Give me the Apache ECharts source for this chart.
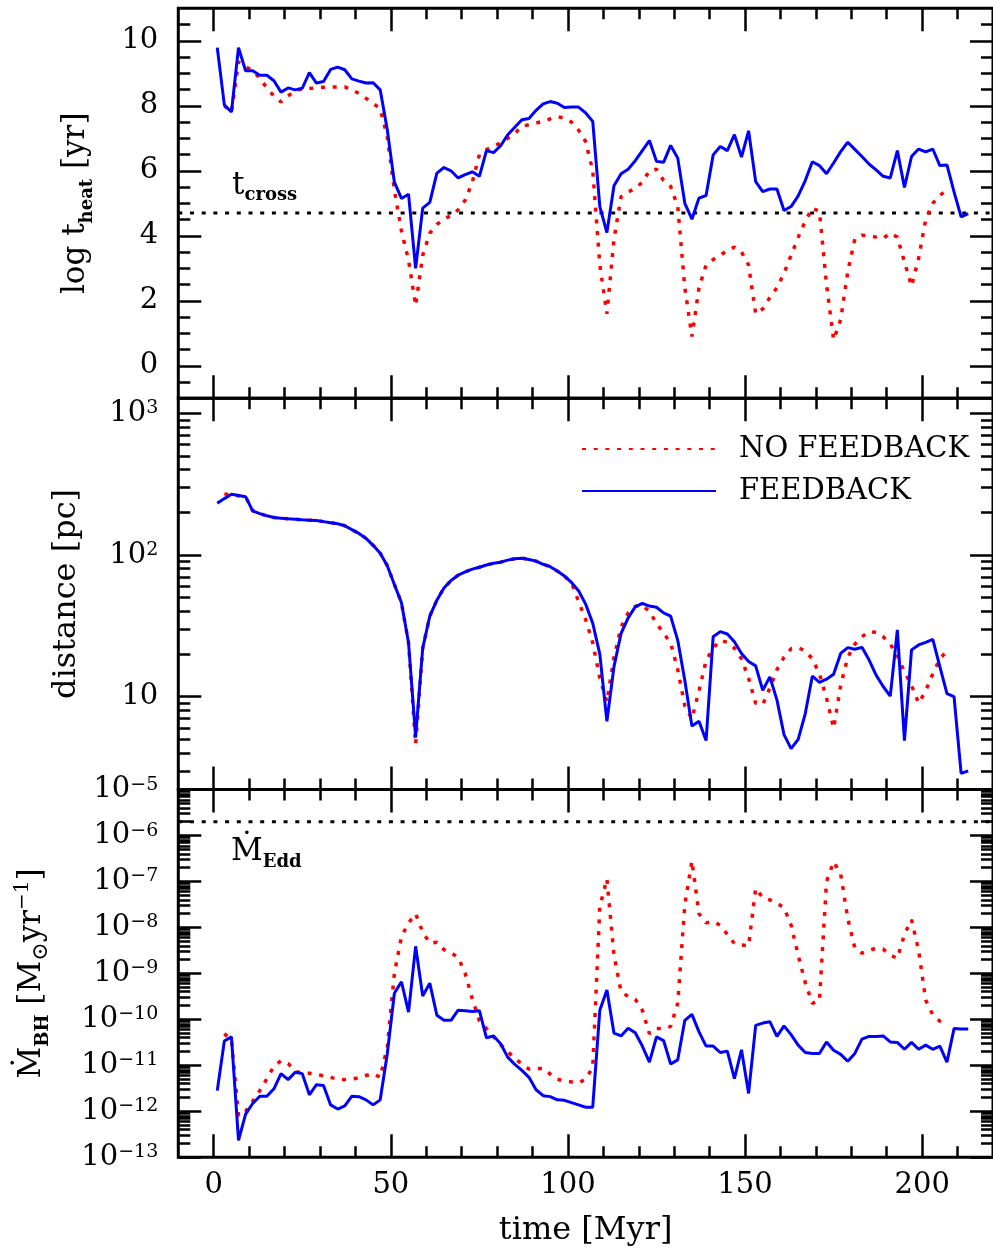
<!DOCTYPE html>
<html><head><meta charset="utf-8">
<script src="https://cdn.jsdelivr.net/npm/echarts@6/dist/echarts.min.js"></script>
<style>html,body{margin:0;padding:0;background:#fff}#c{width:993px;height:1259px}</style>
</head><body><div id="c"></div>
<script>
// ---------------- DATA ----------------
const times = [1,3,5,7,9,11,13,15,17,19,21,23,25,27,29,31,33,35,37,39,41,43,45,47,49,51,53,55,57,59,61,63,65,67,69,71,73,75,77,79,81,83,85,87,89,91,93,95,97,99,101,103,105,107,109,111,113,115,117,119,121,123,125,127,129,131,133,135,137,139,141,143,145,147,149,151,153,155,157,159,161,163,165,167,169,171,173,175,177,179,181,183,185,187,189,191,193,195,197,199,201,203,205,207,209,211,213];

// log t_heat [yr]
const theatFeedback = [9.79,8.03,7.81,9.79,9.08,9.08,8.94,8.94,8.77,8.42,
 8.55,8.49,8.54,9.02,8.70,8.75,9.12,9.19,9.11,8.83,
 8.76,8.70,8.71,8.49,7.26,5.65,5.15,5.28,3.00,4.85,
 5.03,5.93,6.10,6.00,5.78,5.88,5.97,5.83,6.62,6.56,
 6.77,7.11,7.34,7.57,7.61,7.86,8.06,8.13,8.08,7.95,
 7.96,7.96,7.78,7.52,4.90,4.10,5.54,5.91,6.05,6.31,
 6.62,6.93,6.29,6.26,6.78,6.39,5.00,4.51,5.16,5.24,
 6.49,6.75,6.62,7.11,6.42,7.23,5.67,5.36,5.44,5.44,
 4.78,4.90,5.23,5.70,6.28,6.16,5.91,6.24,6.59,6.88,
 6.66,6.44,6.21,6.03,5.83,5.78,6.62,5.49,6.44,6.67,
 6.58,6.67,6.16,6.18,5.35,4.58,4.68];
const theatNoFeedback = [null,8.00,7.80,9.35,9.20,9.08,8.85,8.55,8.30,8.12,
 8.30,8.48,8.51,8.53,8.55,8.57,8.58,8.58,8.58,8.49,
 8.38,8.23,8.08,7.90,7.05,5.40,4.15,3.25,1.85,3.40,
 4.08,4.35,4.52,4.62,4.80,5.10,5.65,6.50,6.65,6.75,
 6.86,7.00,7.15,7.37,7.42,7.47,7.52,7.60,7.67,7.62,
 7.50,7.25,6.90,6.00,3.10,1.60,3.90,5.20,5.35,5.45,
 5.65,6.00,6.05,5.70,5.52,4.90,2.40,0.90,2.40,3.10,
 3.27,3.40,3.55,3.65,3.50,3.10,1.60,1.75,2.10,2.40,
 2.85,3.40,3.95,4.45,4.85,4.75,2.50,0.80,1.42,2.90,
 3.90,4.02,4.00,3.96,3.92,4.08,3.96,3.20,2.45,3.30,
 4.50,5.00,5.25,5.40,null,null,null];

// distance [pc]
const distFeedback = [232,250,268,263,258,205,196,189,184,182,
 180,179,177,176,175,172,169,166,161,151,
 142,131,117,103,84,62,46,24,5.2,22,
 37,48,58.5,66,72,76,79.5,82,85,87.5,
 89,92,94,95,93,90.5,86,82.7,77,71,
 64,56,45,33,20,6.7,16.3,28,36,43,
 45.6,43.6,42.8,39,37,25,13,6.2,6.7,4.9,
 26.5,28.8,27.7,24.4,20.2,17.7,16.5,11.1,13.8,9.5,
 5.4,4.3,5.0,7.6,14.0,12.6,13.3,14.4,20.2,22.2,
 21.6,22.3,18.2,14.2,11.8,10.1,29.6,4.9,21.4,23.2,
 24.2,25.4,16.3,10.5,10.0,2.88,3.0];
const distNoFeedback = [null,270,265,262,258,205,196,189,184,182,
 180,179,177,176,175,172,169,166,161,151,
 142,131,117,103,84,62,46,24,4.6,22,
 37,48,58.5,66,72,76,79.5,82,85,87.5,
 89,92,94,95,93,90.5,86,82.7,77,71,
 64,47,35,24,13.5,9.2,19,31,39,43.5,
 44,40,33,28,24,15.5,8.6,7.0,11,18,
 22,25,24.2,22,18.5,13.5,9,8.8,11.5,15.5,
 19,21.8,22.2,21,18.5,14.5,9.8,6.0,12,19,
 23.5,26.5,28.8,28.5,26.5,23.5,19.5,15,12,9,
 11,14.5,18.5,21,null,null,null];

// accretion rate: log10 of Mdot_BH [Msun/yr]
const mdotFeedbackExp = [-11.55,-10.47,-10.38,-12.63,-12.06,-11.83,-11.67,-11.67,-11.51,-11.18,
 -11.31,-11.15,-11.18,-11.64,-11.42,-11.44,-11.86,-11.95,-11.88,-11.67,
 -11.68,-11.75,-11.86,-11.75,-10.75,-9.43,-9.18,-9.84,-8.41,-9.49,
 -9.21,-9.91,-10.02,-10.02,-9.80,-9.81,-9.83,-9.81,-10.40,-10.36,
 -10.53,-10.82,-10.98,-11.11,-11.26,-11.53,-11.66,-11.68,-11.75,-11.76,
 -11.81,-11.86,-11.91,-11.91,-9.80,-9.36,-10.30,-10.36,-10.19,-10.29,
 -10.58,-10.93,-10.38,-10.46,-10.97,-10.88,-10.02,-9.89,-10.27,-10.58,
 -10.58,-10.72,-10.69,-11.29,-10.66,-11.61,-10.13,-10.08,-10.05,-10.37,
 -10.14,-10.33,-10.56,-10.72,-10.74,-10.74,-10.49,-10.67,-10.76,-10.91,
 -10.74,-10.43,-10.37,-10.37,-10.36,-10.49,-10.50,-10.65,-10.50,-10.65,
 -10.56,-10.65,-10.58,-10.93,-10.20,-10.21,-10.21];
const mdotNoFeedbackExp = [null,-10.31,-10.45,-12.10,-12.00,-11.78,-11.55,-11.29,-11.02,-10.90,
 -10.96,-11.12,-11.18,-11.17,-11.19,-11.23,-11.26,-11.30,-11.31,-11.30,
 -11.27,-11.22,-11.18,-11.26,-10.60,-9.00,-8.20,-7.90,-7.70,-8.10,
 -8.34,-8.32,-8.48,-8.55,-8.65,-9.00,-9.55,-10.03,-10.20,-10.38,
 -10.55,-10.70,-10.85,-10.97,-11.08,-11.08,-11.06,-11.19,-11.30,-11.34,
 -11.36,-11.38,-11.30,-11.04,-7.55,-6.94,-8.60,-9.40,-9.50,-9.56,
 -9.80,-10.31,-10.20,-10.20,-10.15,-9.65,-7.50,-6.55,-7.70,-7.90,
 -7.87,-7.95,-8.15,-8.35,-8.38,-8.40,-7.15,-7.35,-7.40,-7.47,
 -7.57,-7.95,-8.60,-9.20,-9.65,-9.60,-7.00,-6.57,-6.84,-7.80,
 -8.45,-8.56,-8.50,-8.45,-8.47,-8.60,-8.67,-8.15,-7.83,-8.50,
 -9.58,-9.90,-10.04,-10.10,null,null,null];

const tCross = 4.7;       // log yr
const mdotEdd = 2.0e-6;   // Msun/yr

// axis ranges and tick values
const timeRange = [-10, 220];
const xMajorTicks = [0,50,100,150,200];
const xMinorTicks = [10,20,30,40,60,70,80,90,110,120,130,140,160,170,180,190,210];
const theatMajorTicks = [0,2,4,6,8,10];
const theatMinorTicks = [-0.5,0.5,1,1.5,2.5,3,3.5,4.5,5,5.5,6.5,7,7.5,8.5,9,9.5,10.5];
const distMajorTicks = [10,100,1000];
const mdotMajorTicks = [1e-13,1e-12,1e-11,1e-10,1e-9,1e-8,1e-7,1e-6,1e-5];
const minorMultipliers = [2,3,4,5,6,7,8,9];

// ---------------- CHART ----------------
const FONT = 'DejaVu Serif';
const BLACK = '#000';
const RED = '#ff0000';
const BLUE = '#0000ff';

function logMinors(lo, hi) {
  const out = [];
  for (let e = lo; e < hi; e++) minorMultipliers.forEach(m => out.push(m * Math.pow(10, e)));
  return out;
}
const distMinorTicks = logMinors(0, 3).filter(v => v >= 2.3);
const mdotMinorTicks = logMinors(-13, -5);

const grids = [
  {left: 178.3, width: 816, top: 8.3, height: 390},
  {left: 178.3, width: 816, top: 398.3, height: 391.3},
  {left: 178.3, width: 816, top: 789.6, height: 367.7}
].map(g => Object.assign(g, {show: true, borderColor: BLACK, borderWidth: 3, backgroundColor: 'transparent'}));

const tickStyle = {color: BLACK, width: 2.5};
const labelBase = {fontFamily: FONT, fontSize: 29, color: BLACK};
const noLine = {show: false, onZero: false};

function xAxesFor(g, withLabels) {
  const base = {type: 'value', gridIndex: g, min: timeRange[0], max: timeRange[1], splitLine: {show: false}, axisLine: noLine};
  const major = (pos, lab) => Object.assign({}, base, {
    position: pos,
    axisTick: {show: true, inside: true, length: 23, customValues: xMajorTicks, lineStyle: tickStyle},
    axisLabel: lab ? Object.assign({show: true, customValues: xMajorTicks, margin: 14}, labelBase) : {show: false}
  });
  const minor = pos => Object.assign({}, base, {
    position: pos,
    axisTick: {show: true, inside: true, length: 11, customValues: xMinorTicks, lineStyle: tickStyle},
    axisLabel: {show: false}
  });
  const a = major('bottom', withLabels);
  if (withLabels) {
    a.name = 'time [Myr]';
    a.nameLocation = 'middle';
    a.nameGap = 57;
    a.nameTextStyle = {fontFamily: FONT, fontSize: 32, color: BLACK};
  }
  return [a, minor('bottom'), major('top', false), minor('top')];
}

function yAxesFor(g, type, min, max, majors, minors, labelOpts, nameOpts) {
  const base = {type: type, gridIndex: g, min: min, max: max, splitLine: {show: false}, axisLine: noLine};
  if (type === 'log') base.logBase = 10;
  const major = (pos, lab) => Object.assign({}, base, {
    position: pos,
    axisTick: {show: true, inside: true, length: 23, customValues: majors, lineStyle: tickStyle},
    axisLabel: lab ? Object.assign({show: true, customValues: majors, margin: 20}, labelBase, labelOpts || {}) : {show: false}
  });
  const minor = pos => Object.assign({}, base, {
    position: pos,
    axisTick: {show: true, inside: true, length: 12, customValues: minors, lineStyle: tickStyle},
    axisLabel: {show: false}
  });
  const a = major('left', true);
  Object.assign(a, {nameLocation: 'middle', nameRotate: 90}, nameOpts);
  return [a, minor('left'), major('right', false), minor('right')];
}

const supRich = {s: {fontFamily: FONT, fontSize: 19, color: BLACK, verticalAlign: 'top', lineHeight: 20}};

const xAxis = [].concat(xAxesFor(0, false), xAxesFor(1, false), xAxesFor(2, true));
const yAxis = [].concat(
  yAxesFor(0, 'value', -1, 11, theatMajorTicks, theatMinorTicks, {}, {
    name: 'log t{sub|heat} [yr]', nameGap: 82,
    nameTextStyle: {fontFamily: FONT, fontSize: 31, color: BLACK, lineHeight: 40,
      rich: {sub: {fontFamily: FONT, fontSize: 18, fontWeight: 'bold', color: BLACK, verticalAlign: 'bottom', lineHeight: 18}}}
  }),
  yAxesFor(1, 'log', 2.21, 1276, distMajorTicks, distMinorTicks, {
    formatter: v => (Math.round(Math.log10(v)) === 1 ? '10' : '10{s|' + Math.round(Math.log10(v)) + '}'),
    rich: supRich
  }, {
    name: 'distance [pc]', nameGap: 96,
    nameTextStyle: {fontFamily: FONT, fontSize: 32, color: BLACK}
  }),
  yAxesFor(2, 'log', 1e-13, 1e-5, mdotMajorTicks, mdotMinorTicks, {
    formatter: v => '10{s|\u2212' + Math.abs(Math.round(Math.log10(v))) + '}',
    rich: supRich
  }, {
    name: '\u1E40{sub|BH} [M{sun|\u2299}yr{sup|\u22121}]', nameGap: 126,
    nameTextStyle: {fontFamily: FONT, fontSize: 31, color: BLACK, lineHeight: 40,
      rich: {
        sub: {fontFamily: FONT, fontSize: 18, fontWeight: 'bold', color: BLACK, verticalAlign: 'bottom', lineHeight: 18},
        sun: {fontFamily: FONT, fontSize: 22, color: BLACK, verticalAlign: 'bottom', lineHeight: 22},
        sup: {fontFamily: FONT, fontSize: 20, color: BLACK, verticalAlign: 'top', lineHeight: 22}
      }}
  })
);

function pairs(vals, f) {
  return times.map((t, i) => [t, vals[i] == null ? null : (f ? f(vals[i]) : vals[i])]);
}
const pow10 = e => Math.pow(10, e);

const redStyle = {color: RED, width: 3.5, type: [4, 7.7]};
const blueStyle = {color: BLUE, width: 3};
const refStyle = {color: BLACK, width: 3, type: [4, 7.7]};
function line(name, g, data, style, extra) {
  return Object.assign({
    type: 'line', name: name, xAxisIndex: 4 * g, yAxisIndex: 4 * g, data: data,
    showSymbol: false, symbol: 'none', lineStyle: style, itemStyle: {color: style.color},
    animation: false, silent: true, connectNulls: false
  }, extra || {});
}
const refLine = v => timeRange.map(t => [t, v]);

const series = [
  line('t_cross', 0, refLine(tCross), refStyle, {z: 1}),
  line('NO FEEDBACK', 0, pairs(theatNoFeedback), redStyle),
  line('FEEDBACK', 0, pairs(theatFeedback), blueStyle),
  line('NO FEEDBACK', 1, pairs(distNoFeedback), redStyle),
  line('FEEDBACK', 1, pairs(distFeedback), blueStyle),
  line('Mdot_Edd', 2, refLine(mdotEdd), refStyle, {z: 1}),
  line('NO FEEDBACK', 2, pairs(mdotNoFeedbackExp, pow10), redStyle),
  line('FEEDBACK', 2, pairs(mdotFeedbackExp, pow10), blueStyle)
];

const chart = echarts.init(document.getElementById('c'), null, {renderer: 'canvas'});
chart.setOption({
  backgroundColor: '#fff',
  animation: false,
  grid: grids,
  xAxis: xAxis,
  yAxis: yAxis,
  legend: {
    left: 576, top: 429, orient: 'vertical', itemWidth: 134, itemHeight: 14, itemGap: 12,
    data: ['NO FEEDBACK', 'FEEDBACK'], selectedMode: false,
    itemStyle: {opacity: 0},
    textStyle: {fontFamily: FONT, fontSize: 29, color: BLACK, lineHeight: 30, padding: [0, 0, 0, 18]}
  },
  graphic: [
    {type: 'text', left: 232, top: 168, silent: true, style: {
      text: 't{s|cross}', fontFamily: FONT, fontSize: 31, fill: BLACK, lineHeight: 36,
      rich: {s: {fontFamily: FONT, fontSize: 18, fontWeight: 'bold', fill: BLACK, verticalAlign: 'bottom', lineHeight: 18}}}},
    {type: 'text', left: 231, top: 833, silent: true, style: {
      text: '\u1E40{s|Edd}', fontFamily: FONT, fontSize: 31, fill: BLACK, lineHeight: 38,
      rich: {s: {fontFamily: FONT, fontSize: 18, fontWeight: 'bold', fill: BLACK, verticalAlign: 'bottom', lineHeight: 18}}}}
  ],
  series: series
});
</script>
</body></html>
